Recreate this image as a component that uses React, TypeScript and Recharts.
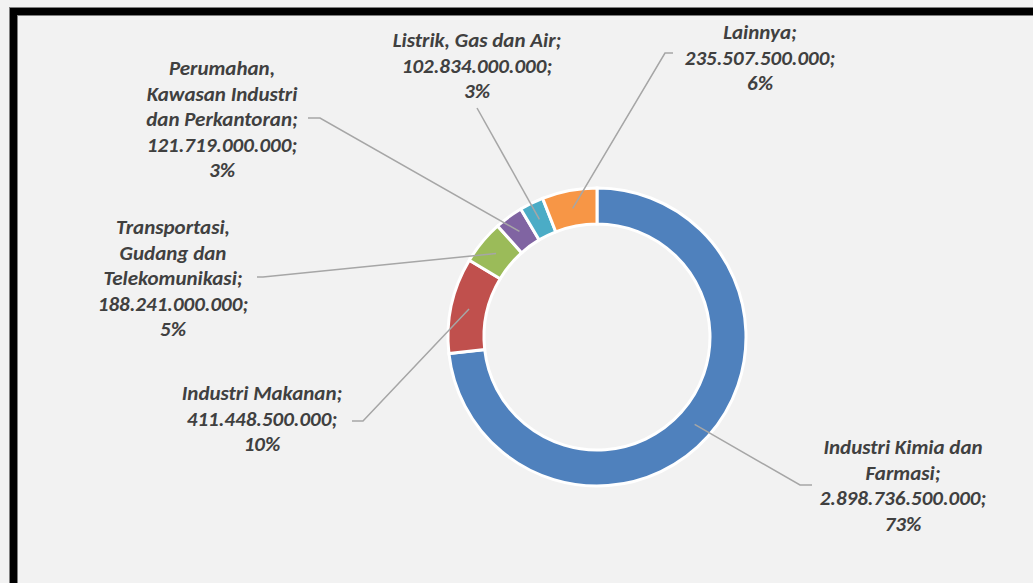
import React from "react";
import { PieChart, Pie, Cell } from "recharts";

const categories = [
  "Industri Kimia dan Farmasi",
  "Industri Makanan",
  "Transportasi, Gudang dan Telekomunikasi",
  "Perumahan, Kawasan Industri dan Perkantoran",
  "Listrik, Gas dan Air",
  "Lainnya",
];
const values = [
  2898736500000, 411448500000, 188241000000, 121719000000, 102834000000,
  235507500000,
];
// how each category name wraps in its label
const nameLines = [
  ["Industri Kimia dan", "Farmasi;"],
  ["Industri Makanan;"],
  ["Transportasi,", "Gudang dan", "Telekomunikasi;"],
  ["Perumahan,", "Kawasan Industri", "dan Perkantoran;"],
  ["Listrik, Gas dan Air;"],
  ["Lainnya;"],
];
const colors = ["#4f81bd", "#c0504d", "#9bbb59", "#8064a2", "#4bacc6", "#f79646"];

// label placement relative to the pie centre (style/layout only)
const labelLayout = [
  { tx: 306, ty: 110, start: [215, 148], elbow: [203, 148] },
  { tx: -335, ty: 56, start: [-245, 84], elbow: [-234, 84] },
  { tx: -424, ty: -110, start: [-340, -60], elbow: [-334, -60] },
  { tx: -375, ty: -269, start: [-289, -219], elbow: [-277, -219] },
  { tx: -120, ty: -297, start: [-120, -229], elbow: null },
  { tx: 163, ty: -305, start: [76, -284], elbow: [68, -284] },
];

const data = categories.map((name, i) => ({ name, value: values[i] }));

const fmt = (v: number) =>
  String(Math.round(v)).replace(/\B(?=(\d{3})+(?!\d))/g, ".");

const RAD = Math.PI / 180;
const LINE_H = 25.5;
const FONT = "Calibri, Carlito, 'Open Sans', sans-serif";

const renderLabel = (props: any) => {
  const { cx, cy, midAngle, innerRadius, outerRadius, percent, index } = props;
  const lay = labelLayout[index];
  const r = (innerRadius + outerRadius) / 2;
  const px = cx + r * Math.cos(-midAngle * RAD);
  const py = cy + r * Math.sin(-midAngle * RAD);
  const pts: number[][] = [[cx + lay.start[0], cy + lay.start[1]]];
  if (lay.elbow) pts.push([cx + lay.elbow[0], cy + lay.elbow[1]]);
  pts.push([px, py]);
  const d = pts.map((p, i) => `${i ? "L" : "M"}${p[0]},${p[1]}`).join(" ");
  const lines = [
    ...nameLines[index],
    fmt(values[index]) + ";",
    Math.round(percent * 100) + "%",
  ];
  return (
    <g key={"lbl" + index}>
      <path d={d} stroke="#a6a6a6" strokeWidth={1.5} fill="none" />
      {lines.map((t, i) => (
        <text
          key={i}
          x={cx + lay.tx}
          y={cy + lay.ty + i * LINE_H}
          textAnchor="middle"
          dominantBaseline="central"
          fill="#404040"
          fontFamily={FONT}
          fontWeight="bold"
          fontStyle="italic"
          fontSize={21}
        >
          {t}
        </text>
      ))}
    </g>
  );
};

export default function App() {
  return (
    <div
      style={{
        position: "fixed",
        left: 0,
        top: 0,
        width: 1033,
        height: 583,
        overflow: "hidden",
        background: "#f2f2f2",
      }}
    >
      <div
        style={{
          position: "absolute",
          left: 10,
          top: 8,
          width: 1100,
          height: 700,
          border: "7px solid #000",
          boxShadow: "0 0 0 1px #7f7f7f, inset 0 0 0 1px #7f7f7f",
        }}
      />
      <div style={{ position: "absolute", left: 0, top: 0 }}>
        <PieChart
          width={1033}
          height={583}
          margin={{ top: 0, right: 0, bottom: 0, left: 0 }}
        >
          <Pie
            data={data}
            dataKey="value"
            nameKey="name"
            cx={597}
            cy={337}
            innerRadius={113}
            outerRadius={149}
            startAngle={90}
            endAngle={-270}
            stroke="#ffffff"
            strokeWidth={3}
            label={renderLabel}
            labelLine={false}
            isAnimationActive={false}
          >
            {data.map((_, i) => (
              <Cell key={i} fill={colors[i]} />
            ))}
          </Pie>
        </PieChart>
      </div>
    </div>
  );
}
